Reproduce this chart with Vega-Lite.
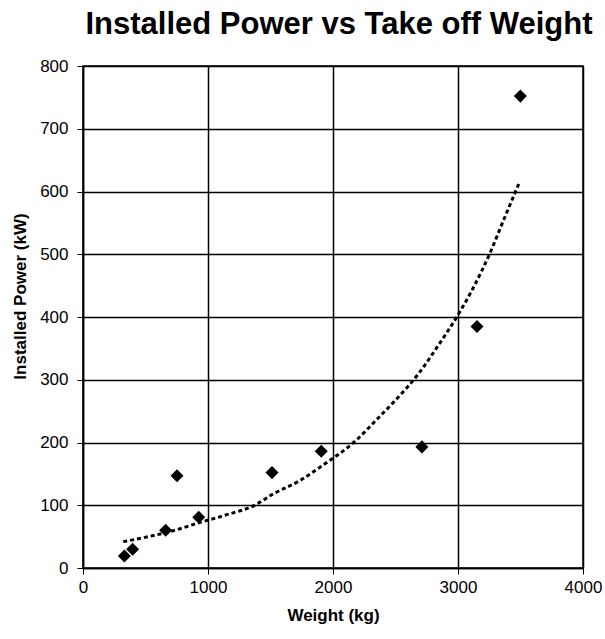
{
  "$schema": "https://vega.github.io/schema/vega-lite/v6.json",
  "autosize": "none",
  "width": 500,
  "height": 502,
  "padding": {"left": 83, "top": 66, "right": 22, "bottom": 71},
  "background": "white",
  "title": {
    "text": "Installed Power vs Take off Weight",
    "font": "Liberation Sans",
    "fontSize": 31,
    "fontWeight": "bold",
    "color": "black",
    "anchor": "middle",
    "dx": 6,
    "offset": 16
  },
  "config": {
    "view": {"stroke": "black", "strokeWidth": 1.5},
    "axis": {
      "labelFont": "Liberation Sans",
      "labelFontSize": 17,
      "labelColor": "black",
      "titleFont": "Liberation Sans",
      "titleFontSize": 17,
      "titleFontWeight": "bold",
      "titleColor": "black",
      "domainColor": "black",
      "domainWidth": 1.5,
      "tickColor": "black",
      "tickSize": 6,
      "gridColor": "black",
      "gridWidth": 1.5,
      "gridOpacity": 1
    }
  },
  "datasets": {
    "pts": [
      {"weight": 331, "power": 19},
      {"weight": 397, "power": 30},
      {"weight": 661, "power": 60},
      {"weight": 752, "power": 147},
      {"weight": 926, "power": 81},
      {"weight": 1512, "power": 152},
      {"weight": 1906, "power": 186},
      {"weight": 2711, "power": 193},
      {"weight": 3152, "power": 385},
      {"weight": 3499, "power": 752}
    ],
    "trend": [
      {"weight": 322, "power": 42},
      {"weight": 501, "power": 49},
      {"weight": 749, "power": 61},
      {"weight": 926, "power": 72},
      {"weight": 1135, "power": 84},
      {"weight": 1383, "power": 101},
      {"weight": 1521, "power": 118},
      {"weight": 1741, "power": 140},
      {"weight": 1906, "power": 162},
      {"weight": 2182, "power": 203},
      {"weight": 2347, "power": 236},
      {"weight": 2512, "power": 270},
      {"weight": 2678, "power": 308},
      {"weight": 2843, "power": 355},
      {"weight": 3008, "power": 406},
      {"weight": 3118, "power": 445},
      {"weight": 3256, "power": 502},
      {"weight": 3366, "power": 555},
      {"weight": 3490, "power": 614}
    ]
  },
  "layer": [
    {
      "data": {"name": "trend"},
      "mark": {"type": "line", "color": "black", "strokeWidth": 3, "strokeDash": [4, 3], "interpolate": "monotone"},
      "encoding": {
        "x": {
          "field": "weight", "type": "quantitative",
          "scale": {"domain": [0, 4000], "nice": false},
          "axis": {"values": [0, 1000, 2000, 3000, 4000], "format": "d", "title": "Weight (kg)", "labelPadding": 5, "titlePadding": 12, "labelFlush": false}
        },
        "y": {
          "field": "power", "type": "quantitative",
          "scale": {"domain": [0, 800], "nice": false},
          "axis": {"values": [0, 100, 200, 300, 400, 500, 600, 700, 800], "format": "d", "title": "Installed Power (kW)", "labelPadding": 9, "titleX": -63, "titleY": 230, "titleBaseline": "middle", "titleAngle": -90, "titleAnchor": "middle"}
        }
      }
    },
    {
      "data": {"name": "pts"},
      "mark": {"type": "point", "shape": "diamond", "filled": true, "color": "black", "opacity": 1, "size": 170},
      "encoding": {
        "x": {"field": "weight", "type": "quantitative"},
        "y": {"field": "power", "type": "quantitative"}
      }
    }
  ]
}
